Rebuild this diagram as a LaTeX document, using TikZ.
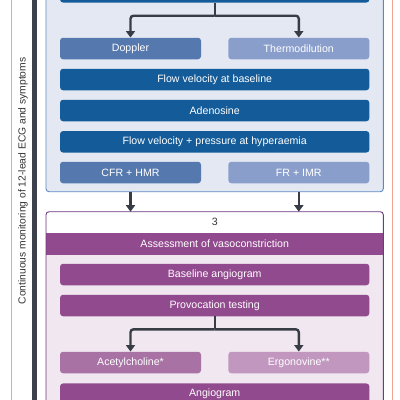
\documentclass[tikz,border=0pt]{standalone}
\usepackage{fontspec}
\setmainfont{Liberation Sans}
\usetikzlibrary{arrows.meta,calc}
\definecolor{bpanel}{HTML}{E4E8F3}
\definecolor{bborder}{HTML}{5F88C2}
\definecolor{bdark}{HTML}{145C99}
\definecolor{bmid}{HTML}{5578AE}
\definecolor{blight}{HTML}{8A9ECB}
\definecolor{ppanel}{HTML}{F0E7F0}
\definecolor{pborder}{HTML}{6E3A83}
\definecolor{pdark}{HTML}{924A8E}
\definecolor{pmid}{HTML}{A872A5}
\definecolor{plight}{HTML}{C197C0}
\definecolor{barc}{HTML}{3C414B}
\definecolor{salmon}{HTML}{F2A48E}
\definecolor{arrc}{HTML}{383D45}
\definecolor{txtc}{HTML}{333333}
\tikzset{
  boxfont/.style={font=\fontsize{10.6}{12}\selectfont},
  boxbase/.style={rectangle, rounded corners=3pt, text=white, boxfont, minimum height=21.5pt, inner sep=0pt},
  wide/.style={boxbase, minimum width=309.3pt},
  half/.style={boxbase, minimum width=141pt},
  conn/.style={draw=arrc, line width=2.4pt},
  arr/.style={conn, -{Triangle[width=9pt,length=6.5pt]}},
}
\begin{document}
\begin{tikzpicture}[x=1pt,y=-1pt]
\useasboundingbox (0,0) rectangle (400,400);
\clip (0,0) rectangle (400,400);
% side elements
\draw[salmon, line width=0.9pt] (11.5,-5) -- (11.5,405);
\draw[salmon, line width=0.9pt] (392.7,-5) -- (392.7,405);
\fill[barc] (32,-5) rectangle (37,405);
\node[rotate=90, text=txtc, font=\fontsize{10.3}{12}\selectfont] (side) at (23,181) {Continuous monitoring of 12-lead ECG and symptoms};
% panels
\draw[draw=bborder, fill=bpanel, line width=0.9pt, rounded corners=3pt] (46,-40) rectangle (383.3,191.7);
\coordinate (bpS) at (214.7,191.7);
\fill[ppanel, rounded corners=3pt] (46,211.7) rectangle (383.3,420);
\coordinate (ppN) at (214.7,211.7);
\fill[white, rounded corners=3pt] (46.45,212.15) rectangle (382.85,240);
\fill[pdark] (46.45,232.7) rectangle (382.85,255);
\draw[draw=pborder, line width=0.9pt, rounded corners=3pt] (46,211.7) rectangle (383.3,420);
\node[text=txtc, boxfont] (num) at (214.7,222.2) {3};
\node[text=white, boxfont] (vaso) at (214.7,243.9) {Assessment of vasoconstriction};
% blue boxes
\node[wide, fill=bdark] (top) at (214.7,-8.2) {};
\node[half, fill=bmid] (dop) at (130.5,48.5) {Doppler};
\node[half, fill=blight] (thermo) at (298.8,48.5) {Thermodilution};
\node[wide, fill=bdark] (fvb) at (214.7,79.5) {Flow velocity at baseline};
\node[wide, fill=bdark] (aden) at (214.7,110.5) {Adenosine};
\node[wide, fill=bdark] (fvp) at (214.7,141.8) {Flow velocity + pressure at hyperaemia};
\node[half, fill=bmid] (cfr) at (130.5,172.5) {CFR + HMR};
\node[half, fill=blight] (fr) at (298.8,172.5) {FR + IMR};
% purple boxes
\node[wide, fill=pdark] (bang) at (214.7,274.5) {Baseline angiogram};
\node[wide, fill=pdark] (prov) at (214.7,305.5) {Provocation testing};
\node[half, fill=pmid] (ach) at (130.5,362.5) {Acetylcholine*};
\node[half, fill=plight] (ergo) at (298.8,362.5) {Ergonovine**};
\node[wide, fill=pdark] (ang) at (214.7,394.2) {Angiogram};
% connectors
\coordinate (s1) at (214.7,15.7);
\draw[conn] (top.south) -- (s1);
\draw[arr, rounded corners=3pt] (s1) -| (dop.north);
\draw[arr, rounded corners=3pt] (s1) -| (thermo.north);
\draw[arr] (cfr.south |- bpS) -- (cfr.south |- ppN);
\draw[arr] (fr.south |- bpS) -- (fr.south |- ppN);
\coordinate (s2) at (214.7,329.3);
\draw[conn] (prov.south) -- (s2);
\draw[arr, rounded corners=3pt] (s2) -| (ach.north);
\draw[arr, rounded corners=3pt] (s2) -| (ergo.north);
\end{tikzpicture}
\end{document}
